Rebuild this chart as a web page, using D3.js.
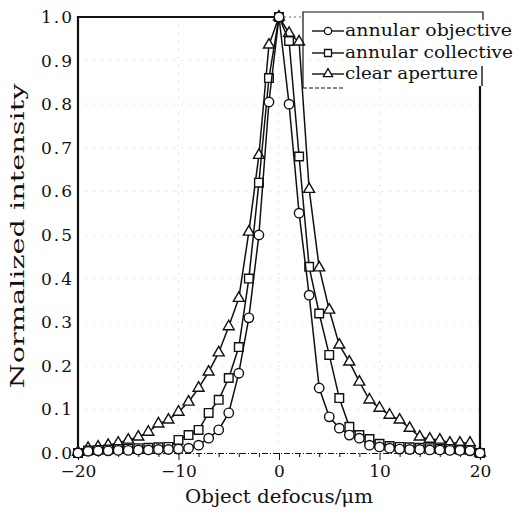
<!DOCTYPE html>
<html>
<head>
<meta charset="utf-8">
<script src="https://cdn.jsdelivr.net/npm/d3@7/dist/d3.min.js"></script>
<style>
  html, body { margin: 0; padding: 0; background: #fff; }
  svg { display: block; }
</style>
</head>
<body>
<svg id="chart" width="518" height="515"></svg>
<script>
// ---- data ----
const defocus = d3.range(-20, 21); // μm, one point per μm
const annularObjective = [
  0.000, 0.004, 0.005, 0.005, 0.006, 0.006, 0.007, 0.007, 0.008, 0.008,
  0.009, 0.011, 0.018, 0.034, 0.053, 0.092, 0.183, 0.310, 0.500, 0.805,
  1.000,
  0.800, 0.550, 0.362, 0.149, 0.083, 0.057, 0.041, 0.034, 0.018, 0.014,
  0.011, 0.009, 0.008, 0.008, 0.007, 0.007, 0.006, 0.006, 0.005, 0.000
];
const annularCollective = [
  0.000, 0.006, 0.007, 0.008, 0.009, 0.010, 0.011, 0.012, 0.013, 0.014,
  0.030, 0.041, 0.053, 0.092, 0.122, 0.172, 0.243, 0.400, 0.620, 0.860,
  1.000,
  0.945, 0.680, 0.427, 0.320, 0.225, 0.126, 0.060, 0.041, 0.032, 0.021,
  0.016, 0.014, 0.013, 0.012, 0.011, 0.010, 0.009, 0.008, 0.007, 0.000
];
const clearAperture = [
  0.002, 0.011, 0.014, 0.018, 0.023, 0.030, 0.037, 0.048, 0.067, 0.076,
  0.094, 0.117, 0.149, 0.186, 0.230, 0.290, 0.355, 0.507, 0.683, 0.936,
  1.000,
  0.963, 0.943, 0.605, 0.425, 0.328, 0.248, 0.209, 0.163, 0.122, 0.103,
  0.087, 0.076, 0.057, 0.037, 0.032, 0.030, 0.023, 0.023, 0.023, 0.000
];
const seriesNames = ["annular objective", "annular collective", "clear aperture"];
const yTickValues = [0, 0.1, 0.2, 0.3, 0.4, 0.5, 0.6, 0.7, 0.8, 0.9, 1.0];
const yTickLabels = ["0.0","0.1","0.2","0.3","0.4","0.5","0.6","0.7","0.8","0.9","1.0"];
const xTickValues = [-20, -10, 0, 10, 20];
const xTickLabels = ["\u221220", "\u221210", "0", "10", "20"];
const xLabel = "Object defocus/\u03bcm";
const yLabel = "Normalized intensity";

// ---- layout ----
const svg = d3.select("#chart");
const x = d3.scaleLinear().domain([-20, 20]).range([78, 480]);
const y = d3.scaleLinear().domain([0, 1]).range([453, 17]);
const serif = "'DejaVu Serif', 'Liberation Serif', serif";
const ink = "#111";

// faint dotted grid (scan-like)
const grid = svg.append("g").attr("stroke", "#bbb").attr("stroke-width", 0.8)
  .attr("stroke-dasharray", "1,7");
grid.selectAll("line.h").data(yTickValues.slice(1, 10)).join("line")
  .attr("x1", x(-20)).attr("x2", x(20))
  .attr("y1", d => y(d)).attr("y2", d => y(d));
grid.selectAll("line.v").data([-10, 0, 10]).join("line")
  .attr("x1", d => x(d)).attr("x2", d => x(d))
  .attr("y1", y(1)).attr("y2", y(0));

// axes frame
svg.append("line").attr("x1", x(-20)).attr("x2", x(-20)).attr("y1", y(1) - 1).attr("y2", y(0))
  .attr("stroke", ink).attr("stroke-width", 2.2);
svg.append("line").attr("x1", x(-20)).attr("x2", x(0)).attr("y1", y(1)).attr("y2", y(1))
  .attr("stroke", ink).attr("stroke-width", 2.2);
svg.append("line").attr("x1", x(0)).attr("x2", 303).attr("y1", y(1)).attr("y2", y(1))
  .attr("stroke", "#666").attr("stroke-width", 1).attr("stroke-dasharray", "2,3");
svg.append("line").attr("x1", x(20)).attr("x2", x(20)).attr("y1", 86).attr("y2", y(0))
  .attr("stroke", ink).attr("stroke-width", 2.2);

// bottom axis
const xAxis = d3.axisBottom(x).tickValues(d3.range(-20, 21, 2)).tickSize(4).tickFormat("");
const gx = svg.append("g").attr("transform", `translate(0,${y(0)})`).call(xAxis);
gx.select(".domain").attr("stroke", ink).attr("stroke-width", 1).attr("stroke-dasharray", "6,2,1,2");
gx.selectAll(".tick line").attr("stroke", ink).attr("stroke-width", 1)
  .attr("y2", d => (d % 10 === 0 ? 7 : 4));
const gxl = svg.append("g").attr("transform", `translate(0,${y(0)})`)
  .call(d3.axisBottom(x).tickValues(xTickValues).tickSize(0).tickPadding(12)
    .tickFormat((d, i) => xTickLabels[i]));
gxl.select(".domain").remove();
gxl.selectAll("text").attr("font-family", serif).attr("font-size", 17).attr("fill", ink);

// left axis labels
const gy = svg.append("g").attr("transform", `translate(${x(-20)},0)`)
  .call(d3.axisLeft(y).tickValues(yTickValues).tickSize(0).tickPadding(4)
    .tickFormat((d, i) => yTickLabels[i]));
gy.select(".domain").remove();
gy.selectAll("text").attr("font-family", serif).attr("font-size", 17).attr("fill", ink)
  .attr("letter-spacing", 2);

// axis titles
svg.append("text").attr("x", 279).attr("y", 503).attr("text-anchor", "middle")
  .attr("font-family", serif).attr("font-size", 18).attr("fill", ink)
  .attr("textLength", 188).attr("lengthAdjust", "spacingAndGlyphs").text(xLabel);
svg.append("text").attr("transform", "translate(24,236) rotate(-90)").attr("text-anchor", "middle")
  .attr("font-family", serif).attr("font-size", 18).attr("fill", ink)
  .attr("textLength", 305).attr("lengthAdjust", "spacingAndGlyphs").text(yLabel);

// ---- series ----
const line = d3.line().x(d => x(d[0])).y(d => y(d[1]));
function markerPath(shape) {
  if (shape === "circle") return d3.symbol(d3.symbolCircle, 70)();
  if (shape === "square") return "M-4.3,-4.3H4.3V4.3H-4.3Z";
  return d3.symbol(d3.symbolTriangle, 52)();
}
const series = [
  { name: seriesNames[2], values: clearAperture, shape: "triangle" },
  { name: seriesNames[1], values: annularCollective, shape: "square" },
  { name: seriesNames[0], values: annularObjective, shape: "circle" }
];
series.forEach(s => {
  const pts = defocus.map((d, i) => [d, s.values[i]]);
  svg.append("path").datum(pts).attr("d", line).attr("fill", "none")
    .attr("stroke", ink).attr("stroke-width", 1.5);
  svg.append("g").selectAll("path").data(pts).join("path")
    .attr("transform", d => `translate(${x(d[0])},${y(d[1])})`)
    .attr("d", markerPath(s.shape))
    .attr("fill", "#fff").attr("stroke", ink).attr("stroke-width", 1.4);
});

// ---- legend ----
const lg = svg.append("g");
lg.append("path").attr("d", "M303,88V12H483V20")
  .attr("fill", "none").attr("stroke", ink).attr("stroke-width", 1.2);
lg.append("line").attr("x1", 303).attr("x2", 345).attr("y1", 88).attr("y2", 88)
  .attr("stroke", ink).attr("stroke-width", 1).attr("stroke-dasharray", "4,2");
const legendRows = [
  { name: seriesNames[0], shape: "circle", y: 31, len: 167 },
  { name: seriesNames[1], shape: "square", y: 53, len: 168 },
  { name: seriesNames[2], shape: "triangle", y: 74, len: 133 }
];
legendRows.forEach(r => {
  lg.append("line").attr("x1", 312).attr("x2", 344).attr("y1", r.y).attr("y2", r.y)
    .attr("stroke", ink).attr("stroke-width", 1.4);
  lg.append("path").attr("transform", `translate(328,${r.y})`)
    .attr("d", r.shape === "circle" ? d3.symbol(d3.symbolCircle, 42)()
      : r.shape === "square" ? "M-3.5,-3.5H3.5V3.5H-3.5Z" : d3.symbol(d3.symbolTriangle, 38)())
    .attr("fill", "#fff").attr("stroke", ink).attr("stroke-width", 1.3);
  lg.append("text").attr("x", 345).attr("y", r.y + 5)
    .attr("font-family", serif).attr("font-size", 17).attr("fill", ink)
    .attr("textLength", r.len).attr("lengthAdjust", "spacingAndGlyphs").text(r.name);
});
// little bar after "clear aperture"
lg.append("line").attr("x1", 482).attr("x2", 482).attr("y1", 66).attr("y2", 86)
  .attr("stroke", ink).attr("stroke-width", 1.4);
</script>
</body>
</html>
